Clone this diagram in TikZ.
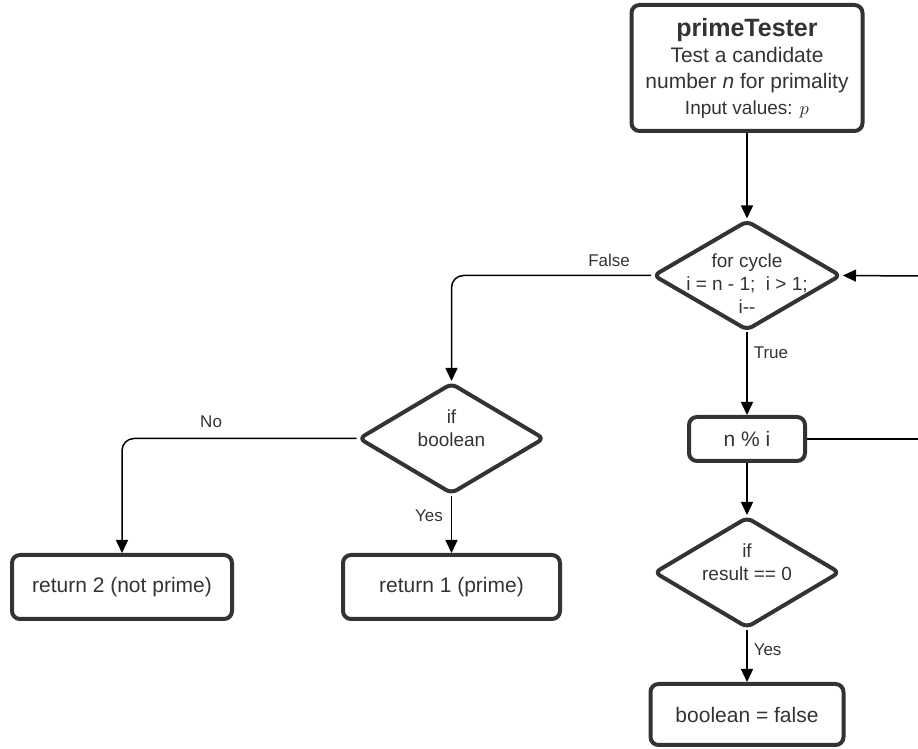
\documentclass[tikz,border=0pt]{standalone}
\usepackage{fontspec}
\setmainfont{Liberation Sans}
\usetikzlibrary{shapes.geometric, arrows.meta}
\definecolor{boxgray}{HTML}{333333}
\tikzset{
  block/.style={draw=boxgray, line width=2pt, rounded corners=4pt, text=boxgray, font=\fontsize{10.5}{13}\selectfont, align=center, inner sep=0pt},
  decision/.style={diamond, draw=boxgray, line width=2pt, rounded corners=3pt, inner sep=0pt},
  dtext/.style={text=boxgray, font=\fontsize{9.5}{11.5}\selectfont, align=center, inner sep=0pt},
  flow/.style={draw=black, line width=0.75pt, -{Triangle[length=6.5pt, width=6pt]}},
  wire/.style={draw=black, line width=0.75pt},
  lbl/.style={text=boxgray, font=\fontsize{8.5}{10}\selectfont, inner sep=1pt},
}

\begin{document}
\begin{tikzpicture}[x=0.5pt, y=-0.5pt]
  \useasboundingbox (0,0) rectangle (918,749);

  \node[block, minimum width=115.5pt, minimum height=63pt] (tester) at (747,68) {{\fontsize{12.5}{15}\selectfont\bfseries primeTester}\\ Test a candidate\\ number \textit{n} for primality\\ {\fontsize{9.5}{11.5}\selectfont Input values: $p$}};

  \node[decision, minimum width=94pt, minimum height=55pt] (loop) at (747,275.5) {};
  \node[dtext] (loop-txt) at ([yshift=-4pt]loop) {for cycle\\ i = n - 1;\ \ i > 1;\\ i-{}-};

  \node[block, minimum width=58pt, minimum height=22pt] (rem) at (747,439) {n \% i};

  \node[decision, minimum width=93pt, minimum height=55.5pt] (ifzero) at (747,572.5) {};
  \node[dtext] (ifzero-txt) at ([yshift=5pt]ifzero) {if\\ result == 0};

  \node[block, minimum width=96.5pt, minimum height=30.5pt] (setfalse) at (747,714.5) {boolean = false};

  \node[decision, minimum width=93pt, minimum height=55.5pt] (ifbool) at (451.5,438.5) {};
  \node[dtext] (ifbool-txt) at ([yshift=5pt]ifbool) {if\\ boolean};

  \node[block, minimum width=110pt, minimum height=32pt] (ret2) at (122,587) {return 2 (not prime)};
  \node[block, minimum width=108.5pt, minimum height=32pt] (ret1) at (451.5,587) {return 1 (prime)};

  \coordinate (back) at (918,276);
  \coordinate (rem-out) at (918,439);

  \draw[flow] (tester.south) -- (loop.north);
  \draw[flow] (back) -- (loop.east);
  \draw[flow, rounded corners=6pt] (loop.west) -| node[lbl, pos=.105, above=3pt] (lb-false) {False} (ifbool.north);
  \draw[flow] (loop.south) -- node[lbl, pos=.25, right=2pt] (lb-true) {True} (rem.north);
  \draw[wire] (rem.east) -- (rem-out);
  \draw[flow] (rem.south) -- (ifzero.north);
  \draw[flow] (ifzero.south) -- node[lbl, pos=.375, right=2pt] (lb-yes1) {Yes} (setfalse.north);
  \draw[flow, rounded corners=6pt] (ifbool.west) -| node[lbl, pos=.31, above=4pt] (lb-no) {No} (ret2.north);
  \draw[flow] (ifbool.south) -- node[lbl, pos=.34, left=3pt] (lb-yes2) {Yes} (ret1.north);
\end{tikzpicture}
\end{document}
